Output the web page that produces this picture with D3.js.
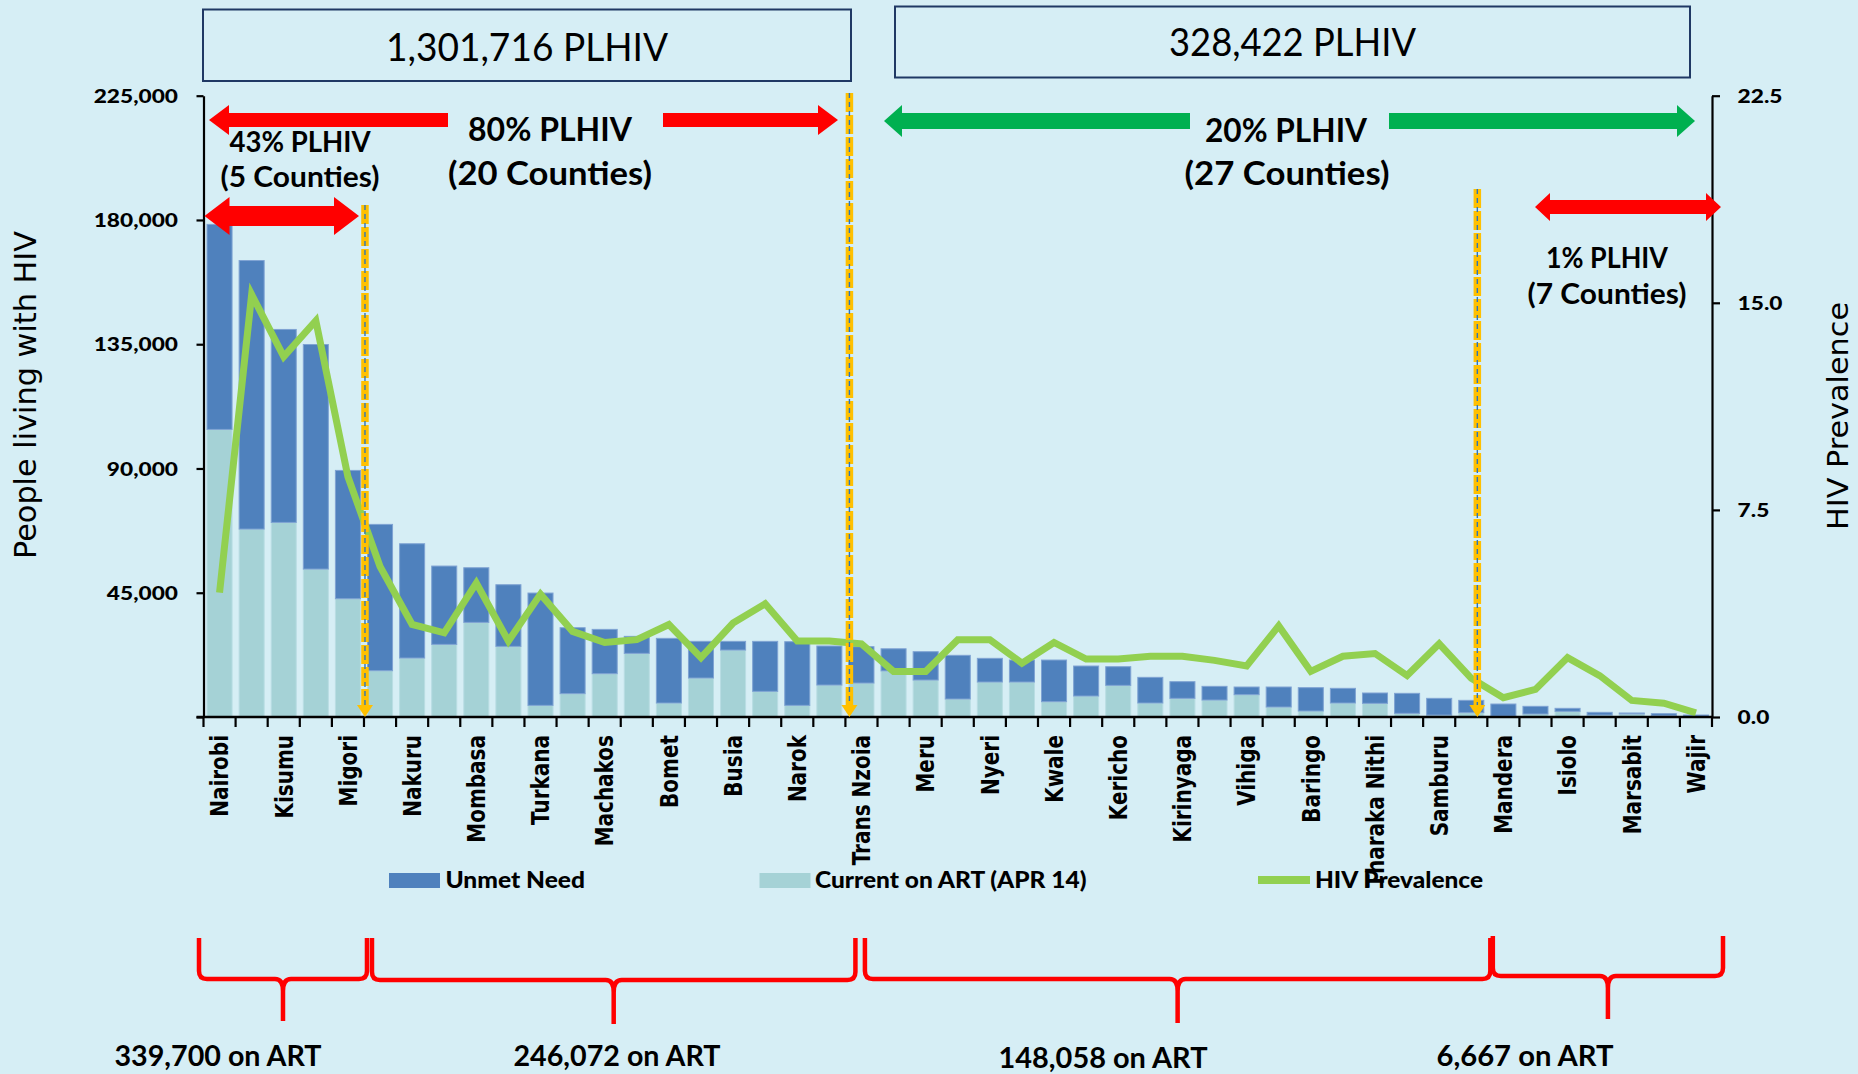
<!DOCTYPE html>
<html>
<head>
<meta charset="utf-8">
<script src="https://cdn.jsdelivr.net/npm/d3@7"></script>
<style>
  html, body { margin: 0; padding: 0; background: #D6EEF5; }
  svg { display: block; }
</style>
</head>
<body>
<svg id="chart" width="1858" height="1074"></svg>
<script>
// ---- Data: Kenyan counties ranked by people living with HIV ----
const counties = ["Nairobi","Homa Bay","Kisumu","Siaya","Migori","Kakamega","Nakuru","Kiambu","Mombasa","Kisii",
  "Turkana","Bungoma","Machakos","Kitui","Bomet","Kajiado","Busia","Uasin Gishu","Narok","Makueni",
  "Trans Nzoia","Nyamira","Meru","Kilifi","Nyeri","Murang'a","Kwale","Embu","Kericho","Nandi",
  "Kirinyaga","Nyandarua","Vihiga","Taita Taveta","Baringo","Laikipia","Tharaka Nithi","West Pokot","Samburu","Elgeyo Marakwet",
  "Mandera","Lamu","Isiolo","Tana River","Marsabit","Garissa","Wajir"];

const currentOnArt = [104150, 68060, 70470, 53580, 42830, 16770, 21360, 26300, 34270, 25580,
  4220, 8450, 15690, 23050, 5070, 14120, 24250, 9290, 4220, 11580,
  12300, 16700, 13390, 6520, 12670, 12670, 5550, 7600, 11460, 5070,
  6760, 6150, 8080, 3620, 2170, 5070, 4950, 1330, 700, 1570,
  300, 1090, 2050, 720, 1090, 480, 240];

const unmetNeed = [74250, 97240, 69880, 81320, 46470, 52980, 41380, 28360, 19780, 22320,
  40670, 23880, 16040, 6150, 23410, 13270, 3140, 18100, 23050, 14120,
  13160, 8000, 10260, 15810, 8570, 7960, 15080, 10860, 6760, 9290,
  6030, 4950, 2780, 7240, 8450, 5310, 3740, 7240, 6060, 4460,
  4400, 2770, 1090, 970, 360, 730, 480];

const prevalence = [4.5, 15.3, 13.05, 14.35, 8.7, 5.45, 3.35, 3.05, 4.85, 2.75,
  4.45, 3.1, 2.7, 2.8, 3.35, 2.15, 3.4, 4.1, 2.75, 2.75,
  2.65, 1.65, 1.65, 2.8, 2.8, 1.95, 2.7, 2.1, 2.1, 2.2,
  2.2, 2.05, 1.85, 3.3, 1.65, 2.2, 2.3, 1.5, 2.65, 1.4,
  0.7, 1.0, 2.15, 1.5, 0.6, 0.5, 0.15];

const leftTicks = [0, 45000, 90000, 135000, 180000, 225000];
const rightTicks = [0, 7.5, 15, 22.5];
const seriesNames = ["Unmet Need", "Current on ART (APR 14)", "HIV Prevalence"];

// Group annotations
const groupBreaks = [0, 5, 20, 40, 47];
const plhivTotals = ["1,301,716 PLHIV", "328,422 PLHIV"];
const shareTop = ["80% PLHIV", "(20 Counties)", "20% PLHIV", "(27 Counties)"];
const shareInner = ["43% PLHIV", "(5 Counties)", "1% PLHIV", "(7 Counties)"];
const onArtLabels = ["339,700 on ART", "246,072 on ART", "148,058 on ART", "6,667 on ART"];

// ---- Layout ----
const W = 1858, H = 1074;
const plot = { x0: 203.5, x1: 1712, y0: 95.7, y1: 717 };
const C = {
  bg: "#D6EEF5", unmet: "#4F81BD", art: "#A5D2D6", line: "#92D050",
  red: "#FF0000", green: "#00B050", orange: "#FFC000", navy: "#1F3864"
};
const calib = "Lato, 'Open Sans', sans-serif";

const svg = d3.select("#chart");
svg.append("rect").attr("width", W).attr("height", H).attr("fill", C.bg);

const x = d3.scaleBand().domain(counties).range([plot.x0, plot.x1])
  .paddingInner(0.22).paddingOuter(0.11);
const yL = d3.scaleLinear().domain([0, 225000]).range([plot.y1, plot.y0]);
const yR = d3.scaleLinear().domain([0, 22.5]).range([plot.y1, plot.y0]);
const boundary = k => k < counties.length
  ? x(counties[k]) - x.step() * x.paddingInner() / 2
  : x.range()[1];
const cx = i => x(counties[i]) + x.bandwidth() / 2;

// ---- Stacked bars ----
const rows = counties.map((c, i) => ({ county: c, art: currentOnArt[i], unmet: unmetNeed[i] }));
const layers = d3.stack().keys(["art", "unmet"])(rows);
const fills = { art: C.art, unmet: C.unmet };
const strokes = { art: "#B9DDE3", unmet: "#7FA3D3" };
svg.append("g").selectAll("g").data(layers).join("g")
  .attr("fill", d => fills[d.key]).attr("stroke", d => strokes[d.key]).attr("stroke-width", 1)
  .selectAll("rect").data(d => d).join("rect")
  .attr("x", d => x(d.data.county))
  .attr("width", x.bandwidth())
  .attr("y", d => yL(d[1]))
  .attr("height", d => yL(d[0]) - yL(d[1]));

// ---- Prevalence line ----
svg.append("path").datum(prevalence)
  .attr("fill", "none").attr("stroke", C.line).attr("stroke-width", 7)
  .attr("stroke-linejoin", "miter")
  .attr("d", d3.line().x((d, i) => cx(i)).y(d => yR(d)));

// ---- Axes ----
const tickFont = sel => sel.attr("font-family", calib).attr("font-weight", 900)
  .attr("font-size", 18.6).attr("fill", "#000");

const gL = svg.append("g").attr("transform", `translate(${plot.x0},0)`)
  .call(d3.axisLeft(yL).tickValues(leftTicks).tickSize(7).tickSizeOuter(0)
    .tickFormat(d => d ? d3.format(",")(d) : ""));
gL.select(".domain").attr("stroke", "#000").attr("stroke-width", 2.2);
gL.selectAll(".tick line").attr("stroke", "#000").attr("stroke-width", 2.2);
gL.selectAll(".tick text").call(tickFont)
  .attr("x", -25.5 / 1.22).attr("dy", "0.36em").attr("transform", "scale(1.22,1)");

const gR = svg.append("g").attr("transform", `translate(${plot.x1},0)`)
  .call(d3.axisRight(yR).tickValues(rightTicks).tickSize(8).tickSizeOuter(0)
    .tickFormat(d3.format(".1f")));
gR.select(".domain").attr("stroke", "#000").attr("stroke-width", 2.2);
gR.selectAll(".tick line").attr("stroke", "#000").attr("stroke-width", 2.2);
gR.selectAll(".tick text").call(tickFont)
  .attr("x", 25.6 / 1.22).attr("dy", "0.36em").attr("transform", "scale(1.22,1)");

// category axis: a tick at every band boundary, a label on every other county
const gX = svg.append("g");
gX.append("line").attr("x1", plot.x0 - 7).attr("x2", plot.x1)
  .attr("y1", plot.y1).attr("y2", plot.y1).attr("stroke", "#000").attr("stroke-width", 2.6);
gX.selectAll("line.tk").data(d3.range(counties.length + 1)).join("line").attr("class", "tk")
  .attr("x1", k => boundary(k)).attr("x2", k => boundary(k))
  .attr("y1", plot.y1).attr("y2", plot.y1 + 10)
  .attr("stroke", "#000").attr("stroke-width", 2.2);
gX.selectAll("text").data(counties.map((c, i) => ({ c, i })).filter(d => d.i % 2 === 0)).join("text")
  .attr("transform", d => `translate(${cx(d.i)},735) rotate(-90) scale(1,1.22)`)
  .attr("text-anchor", "end").attr("dy", "0.36em")
  .attr("font-family", "'DejaVu Sans', Verdana, sans-serif").attr("font-weight", 700)
  .attr("font-size", 20).attr("fill", "#000")
  .text(d => d.c);

// axis titles
svg.append("text").attr("transform", "translate(36,395) rotate(-90)")
  .attr("text-anchor", "middle").attr("font-family", "'DejaVu Sans', sans-serif")
  .attr("font-size", 29.5).attr("fill", "#000")
  .attr("textLength", 328).attr("lengthAdjust", "spacingAndGlyphs")
  .text("People living with HIV");
svg.append("text").attr("transform", "translate(1848,416) rotate(-90)")
  .attr("text-anchor", "middle").attr("font-family", "'DejaVu Sans', sans-serif")
  .attr("font-size", 28).attr("fill", "#000")
  .attr("textLength", 228).attr("lengthAdjust", "spacingAndGlyphs")
  .text("HIV Prevalence");

// ---- Legend ----
const legend = svg.append("g");
const legendItems = [
  { name: seriesNames[0], sx: 389, tx: 445.5, tw: 139.5, kind: "box", color: C.unmet },
  { name: seriesNames[1], sx: 759.5, tx: 815, tw: 271.5, kind: "box", color: C.art },
  { name: seriesNames[2], sx: 1258, tx: 1315, tw: 168, kind: "line", color: C.line }
];
legendItems.forEach(it => {
  if (it.kind === "box") {
    legend.append("rect").attr("x", it.sx).attr("y", 873).attr("width", 51).attr("height", 15).attr("fill", it.color);
  } else {
    legend.append("rect").attr("x", it.sx).attr("y", 876).attr("width", 52).attr("height", 8).attr("fill", it.color);
  }
  legend.append("text").attr("x", it.tx).attr("y", 888)
    .attr("font-family", calib).attr("font-weight", 900).attr("font-size", 22).attr("fill", "#000")
    .attr("textLength", it.tw).attr("lengthAdjust", "spacingAndGlyphs")
    .text(it.name);
});

// ---- Annotation helpers ----
const ann = svg.append("g");
function label(str, cxp, base, size, width, weight) {
  ann.append("text").attr("x", cxp).attr("y", base).attr("text-anchor", "middle")
    .attr("font-family", calib).attr("font-weight", weight).attr("font-size", size).attr("fill", "#000")
    .attr("textLength", width).attr("lengthAdjust", "spacingAndGlyphs")
    .text(str);
}
function arrowHead(tip, tail, cy, sh, hh, hl) {
  const s = tail > tip ? 1 : -1, b = tip + s * hl;
  return [[tip, cy], [b, cy - hh], [b, cy - sh], [tail, cy - sh], [tail, cy + sh], [b, cy + sh], [b, cy + hh]];
}
function doubleArrow(l, r, cy, sh, hh, hl) {
  return [[l, cy], [l + hl, cy - hh], [l + hl, cy - sh], [r - hl, cy - sh], [r - hl, cy - hh], [r, cy],
          [r - hl, cy + hh], [r - hl, cy + sh], [l + hl, cy + sh], [l + hl, cy + hh]];
}
const poly = (pts, color) => ann.append("polygon").attr("points", pts.map(p => p.join(",")).join(" ")).attr("fill", color);

// PLHIV boxes
ann.append("rect").attr("x", 203).attr("y", 9.5).attr("width", 648).attr("height", 71.5)
  .attr("fill", "none").attr("stroke", C.navy).attr("stroke-width", 2);
ann.append("rect").attr("x", 895).attr("y", 6.5).attr("width", 795).attr("height", 71)
  .attr("fill", "none").attr("stroke", C.navy).attr("stroke-width", 2);
label(plhivTotals[0], 527, 61, 39, 282, 400);
label(plhivTotals[1], 1292.5, 56, 38, 247, 400);

// Group divider lines
const dividers = [
  { k: groupBreaks[1], dx: 1, top: 205 },
  { k: groupBreaks[2], dx: 4, top: 93 },
  { k: groupBreaks[3], dx: -10, top: 189 }
];
dividers.forEach(d => {
  const xp = boundary(d.k) + d.dx;
  ann.append("line").attr("x1", xp).attr("x2", xp).attr("y1", d.top).attr("y2", plot.y1 - 8)
    .attr("stroke", C.orange).attr("stroke-width", 7.5).attr("stroke-dasharray", "19 3");
  ann.append("line").attr("x1", xp).attr("x2", xp).attr("y1", d.top).attr("y2", plot.y1 - 4)
    .attr("stroke", "#2E75B6").attr("stroke-width", 1.4).attr("stroke-dasharray", "5 4");
  poly([[xp - 8, plot.y1 - 12], [xp + 8, plot.y1 - 12], [xp, plot.y1]], C.orange);
});

// Arrows
poly(arrowHead(209, 448, 120, 7, 15, 20), C.red);
poly(arrowHead(838, 663, 120, 7, 15, 20), C.red);
poly(arrowHead(884, 1190, 121, 8, 16, 18), C.green);
poly(arrowHead(1695, 1389, 121, 8, 16, 18), C.green);
poly(doubleArrow(204.5, 359, 216, 10, 19, 25), C.red);
poly(doubleArrow(1535, 1721, 207, 7, 14, 15), C.red);

// Share labels
label(shareTop[0], 550, 141, 32, 164, 700);
label(shareTop[1], 550, 185, 32, 204, 700);
label(shareTop[2], 1286, 142, 32, 162, 700);
label(shareTop[3], 1287, 185, 32, 205, 700);
label(shareInner[0], 300, 152, 28, 141, 700);
label(shareInner[1], 300, 187, 28, 159, 700);
label(shareInner[2], 1607, 268, 28, 122, 700);
label(shareInner[3], 1607, 304, 28, 159, 700);

// Braces under each group with the number on ART
const braceGeom = [
  { dl: -4.5, dr: 3, top: 938, bar: 979, tip: 1021, tx: 218, ty: 1066, tw: 207 },
  { dl: 8, dr: 10, top: 938, bar: 980, tip: 1024, tx: 617, ty: 1066, tw: 207 },
  { dl: 19.5, dr: 3, top: 938, bar: 979, tip: 1023, tx: 1103, ty: 1068, tw: 209 },
  { dl: 5.5, dr: 11, top: 936, bar: 976, tip: 1019, tx: 1525, ty: 1066, tw: 177 }
];
braceGeom.forEach((b, i) => {
  const l = boundary(groupBreaks[i]) + b.dl, r = boundary(groupBreaks[i + 1]) + b.dr, m = (l + r) / 2;
  const p = d3.path();
  p.moveTo(l, b.top); p.lineTo(l, b.bar - 8); p.quadraticCurveTo(l, b.bar, l + 8, b.bar);
  p.lineTo(m - 8, b.bar); p.quadraticCurveTo(m, b.bar, m, b.bar + 12); p.lineTo(m, b.tip);
  p.moveTo(r, b.top); p.lineTo(r, b.bar - 8); p.quadraticCurveTo(r, b.bar, r - 8, b.bar);
  p.lineTo(m + 8, b.bar); p.quadraticCurveTo(m, b.bar, m, b.bar + 12);
  ann.append("path").attr("d", p.toString()).attr("fill", "none")
    .attr("stroke", C.red).attr("stroke-width", 4.5);
  label(onArtLabels[i], b.tx, b.ty, 28, b.tw, 700);
});
</script>
</body>
</html>
